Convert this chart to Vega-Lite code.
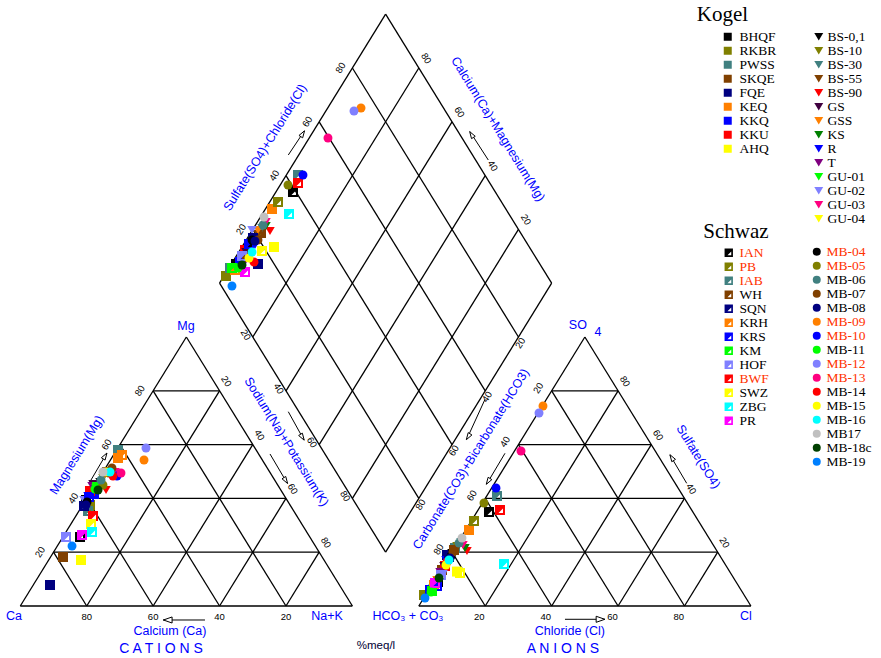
{
"$schema": "https://vega.github.io/schema/vega-lite/v6.json",
"width": 881, "height": 658, "autosize": {"type": "none"}, "padding": 0,
"background": "white",
"config": {"view": {"stroke": null},
  "legend": {"orient": "none", "padding": 0, "labelFont": "Liberation Serif", "labelFontSize": 13.5, "labelColor": "#000000", "rowPadding": -1.4, "symbolStrokeWidth": 0, "labelOffset": 5}},
"datasets": {
 "grid": [
  {"x":0,"y":0,"x2":100,"y2":0},{"x":0,"y":0,"x2":50,"y2":100},{"x":100,"y":0,"x2":50,"y2":100},
  {"x":10,"y":20,"x2":90,"y2":20},{"x":20,"y":40,"x2":80,"y2":40},{"x":30,"y":60,"x2":70,"y2":60},{"x":40,"y":80,"x2":60,"y2":80},
  {"x":20,"y":0,"x2":60,"y2":80},{"x":40,"y":0,"x2":70,"y2":60},{"x":60,"y":0,"x2":80,"y2":40},{"x":80,"y":0,"x2":90,"y2":20},
  {"x":80,"y":0,"x2":40,"y2":80},{"x":60,"y":0,"x2":30,"y2":60},{"x":40,"y":0,"x2":20,"y2":40},{"x":20,"y":0,"x2":10,"y2":20},
  {"x":120,"y":0,"x2":220,"y2":0},{"x":120,"y":0,"x2":170,"y2":100},{"x":220,"y":0,"x2":170,"y2":100},
  {"x":130,"y":20,"x2":210,"y2":20},{"x":140,"y":40,"x2":200,"y2":40},{"x":150,"y":60,"x2":190,"y2":60},{"x":160,"y":80,"x2":180,"y2":80},
  {"x":140,"y":0,"x2":180,"y2":80},{"x":160,"y":0,"x2":190,"y2":60},{"x":180,"y":0,"x2":200,"y2":40},{"x":200,"y":0,"x2":210,"y2":20},
  {"x":200,"y":0,"x2":160,"y2":80},{"x":180,"y":0,"x2":150,"y2":60},{"x":160,"y":0,"x2":140,"y2":40},{"x":140,"y":0,"x2":130,"y2":20},
  {"x":110,"y":20,"x2":60,"y2":120},{"x":60,"y":120,"x2":110,"y2":220},{"x":110,"y":220,"x2":160,"y2":120},{"x":160,"y":120,"x2":110,"y2":20},
  {"x":100,"y":40,"x2":150,"y2":140},{"x":90,"y":60,"x2":140,"y2":160},{"x":80,"y":80,"x2":130,"y2":180},{"x":70,"y":100,"x2":120,"y2":200},
  {"x":120,"y":40,"x2":70,"y2":140},{"x":130,"y":60,"x2":80,"y2":160},{"x":140,"y":80,"x2":90,"y2":180},{"x":150,"y":100,"x2":100,"y2":200}
 ],
 "shafts": [
  {"x":42.97,"y":-5.2,"x2":55.61,"y2":-5.2},
  {"x":20.99,"y":46.21,"x2":26.02,"y2":56.77},
  {"x":80.70,"y":72.23,"x2":85.42,"y2":61.71},
  {"x":75.19,"y":56.51,"x2":80.40,"y2":45.61},
  {"x":164.01,"y":-4.94,"x2":176.06,"y2":-4.94},
  {"x":139.93,"y":76.84,"x2":134.42,"y2":61.97},
  {"x":145.95,"y":56.77,"x2":140.44,"y2":45.35},
  {"x":195.63,"y":56.13,"x2":200.66,"y2":45.61},
  {"x":80.70,"y":167.66,"x2":85.52,"y2":176.58},
  {"x":135.41,"y":176.32,"x2":140.92,"y2":165.80}
 ],
 "heads": [
  {"x":44.4,"y":-5.2,"dir":"l"},
  {"x":25.4,"y":55.5,"dir":"ur"},
  {"x":84.8,"y":63.0,"dir":"dr"},
  {"x":79.8,"y":46.9,"dir":"dr"},
  {"x":174.7,"y":-4.94,"dir":"r"},
  {"x":135.0,"y":63.2,"dir":"dl"},
  {"x":141.0,"y":46.6,"dir":"dl"},
  {"x":196.3,"y":54.9,"dir":"ul"},
  {"x":84.9,"y":175.3,"dir":"ur"},
  {"x":136.0,"y":175.0,"dir":"ul"}
 ],
 "ticks0": [
  {"t":"80","x":20,"y":-4.1},{"t":"60","x":40,"y":-4.1},{"t":"40","x":60,"y":-4.1},{"t":"20","x":80,"y":-4.1},
  {"t":"20","x":138.2,"y":-4.1},{"t":"40","x":158.2,"y":-4.1},{"t":"60","x":178.3,"y":-4.1},{"t":"80","x":198.3,"y":-4.1}
 ],
 "ticksL": [
  {"t":"20","x":6,"y":20},{"t":"40","x":16,"y":40},{"t":"60","x":26,"y":60},{"t":"80","x":36,"y":80},
  {"t":"20","x":156,"y":81},{"t":"40","x":146,"y":61},{"t":"60","x":136,"y":41},{"t":"80","x":126,"y":21},
  {"t":"20","x":66.5,"y":140},{"t":"40","x":76.5,"y":160},{"t":"60","x":86.5,"y":180},{"t":"80","x":96.5,"y":200},
  {"t":"20","x":150.6,"y":97.7},{"t":"40","x":140.6,"y":77.7},{"t":"60","x":130.6,"y":57.7},{"t":"80","x":120.6,"y":37.7}
 ],
 "ticksR": [
  {"t":"20","x":62,"y":83.5},{"t":"40","x":72,"y":63.5},{"t":"60","x":82,"y":43.5},{"t":"80","x":92,"y":23.5},
  {"t":"80","x":182,"y":83.5},{"t":"60","x":192,"y":63.5},{"t":"40","x":202,"y":43.5},{"t":"20","x":212,"y":23.5},
  {"t":"80","x":122.2,"y":203.6},{"t":"60","x":132.2,"y":183.6},{"t":"40","x":142.2,"y":163.6},{"t":"20","x":152.2,"y":143.6},
  {"t":"20","x":67.8,"y":100.8},{"t":"40","x":77.8,"y":80.8},{"t":"60","x":87.8,"y":60.8},{"t":"80","x":97.8,"y":40.8}
 ],
 "titles0": [
  {"t":"Mg","x":49.9,"y":104.1},{"t":"Ca","x":-1.9,"y":-3.9},{"t":"Na+K","x":92.35,"y":-3.9},
  {"t":"Calcium (Ca)","x":45.08,"y":-9.3},{"t":"HCO₃ + CO₃","x":116.74,"y":-3.9},{"t":"Cl","x":218.5,"y":-3.9},
  {"t":"Chloride (Cl)","x":165.5,"y":-9.3},{"t":"SO","x":167.9,"y":104.5},{"t":"4","x":173.95,"y":101.9}
 ],
 "titlesL": [
  {"t":"Magnesium(Mg)","x":16.98,"y":56.1},
  {"t":"Sulfate(SO4)+Chloride(Cl)","x":73.68,"y":170.45},
  {"t":"Carbonate(CO3)+Bicarbonate(HCO3)","x":135.71,"y":54.65}
 ],
 "titlesR": [
  {"t":"Sodium(Na)+Potassium(K)","x":80.16,"y":61.08},
  {"t":"Calcium(Ca)+Magnesium(Mg)","x":143.84,"y":177.32},
  {"t":"Sulfate(SO4)","x":204.15,"y":55.5}
 ],
 "big": [{"t":"C A T I O N S","x":42.37,"y":-16.0},{"t":"A N I O N S","x":163.4,"y":-16.0}],
 "meq": [{"t":"%meq/l","x":107.1,"y":-14.9}],
 "groups": [{"t":"Kogel","x":211.44,"y":219.7},{"t":"Schwaz","x":215.5,"y":139.0}],
 "pts": [
  {"s":"BHQF","g":"KS","x":19.78,"y":39.41},{"s":"BHQF","g":"KS","x":125.77,"y":8.92},{"s":"BHQF","g":"KS","x":64.95,"y":127.14},
  {"s":"RKBR","g":"KS","x":20.69,"y":36.43},{"s":"RKBR","g":"KS","x":121.56,"y":4.09},{"s":"RKBR","g":"KS","x":61.94,"y":122.68},
  {"s":"PWSS","g":"KS","x":29.42,"y":57.99},{"s":"PWSS","g":"KS","x":130.89,"y":21.56},{"s":"PWSS","g":"KS","x":63.14,"y":125.65},
  {"s":"SKQE","g":"KS","x":12.86,"y":18.22},{"s":"SKQE","g":"KS","x":126.98,"y":13.38},{"s":"SKQE","g":"KS","x":72.48,"y":138.66},
  {"s":"FQE","g":"KS","x":8.94,"y":7.81},{"s":"FQE","g":"KS","x":128.48,"y":18.96},{"s":"FQE","g":"KS","x":71.57,"y":127.14},
  {"s":"KEQ","g":"KS","x":29.42,"y":55.02},{"s":"KEQ","g":"KS","x":135.11,"y":28.25},{"s":"KEQ","g":"KS","x":75.79,"y":147.58},
  {"s":"KKQ","g":"KS","x":22.19,"y":41.64},{"s":"KKQ","g":"KS","x":123.37,"y":5.95},{"s":"KKQ","g":"KS","x":66.15,"y":127.88},
  {"s":"KKU","g":"KS","x":20.99,"y":42.75},{"s":"KKU","g":"KS","x":127.88,"y":14.87},{"s":"KKU","g":"KS","x":67.66,"y":132.34},
  {"s":"AHQ","g":"KS","x":18.28,"y":17.10},{"s":"AHQ","g":"KS","x":131.5,"y":12.8},{"s":"AHQ","g":"KS","x":76.39,"y":133.46},
  {"s":"BS-0,1","g":"KT","x":24.0,"y":46.10},{"s":"BS-0,1","g":"KT","x":129.99,"y":19.70},{"s":"BS-0,1","g":"KT","x":69.17,"y":133.83},
  {"s":"BS-10","g":"KT","x":24.90,"y":47.58},{"s":"BS-10","g":"KT","x":131.49,"y":22.31},{"s":"BS-10","g":"KT","x":70.97,"y":136.80},
  {"s":"BS-30","g":"KT","x":23.40,"y":45.35},{"s":"BS-30","g":"KT","x":132.70,"y":23.79},{"s":"BS-30","g":"KT","x":72.78,"y":140.52},
  {"s":"BS-55","g":"KT","x":26.41,"y":49.07},{"s":"BS-55","g":"KT","x":131.19,"y":20.82},{"s":"BS-55","g":"KT","x":71.57,"y":138.29},
  {"s":"BS-90","g":"KT","x":25.81,"y":43.12},{"s":"BS-90","g":"KT","x":134.51,"y":20.45},{"s":"BS-90","g":"KT","x":75.19,"y":139.41},
  {"s":"GS","g":"KT","x":21.89,"y":45.35},{"s":"GS","g":"KT","x":127.58,"y":14.87},{"s":"GS","g":"KT","x":67.96,"y":131.60},
  {"s":"GSS","g":"KT","x":25.20,"y":48.33},{"s":"GSS","g":"KT","x":125.47,"y":9.67},{"s":"GSS","g":"KT","x":71.57,"y":139.78},
  {"s":"KS","g":"KT","x":24.0,"y":44.61},{"s":"KS","g":"KT","x":133.90,"y":21.56},{"s":"KS","g":"KT","x":73.98,"y":141.27},
  {"s":"R","g":"KT","x":20.39,"y":40.89},{"s":"R","g":"KT","x":128.18,"y":17.10},{"s":"R","g":"KT","x":70.67,"y":134.20},
  {"s":"T","g":"KT","x":21.59,"y":44.61},{"s":"T","g":"KT","x":126.38,"y":12.64},{"s":"T","g":"KT","x":67.36,"y":127.51},
  {"s":"GU-01","g":"KT","x":22.79,"y":43.87},{"s":"GU-01","g":"KT","x":124.27,"y":6.69},{"s":"GU-01","g":"KT","x":64.95,"y":124.91},
  {"s":"GU-02","g":"KT","x":19.18,"y":39.41},{"s":"GU-02","g":"KT","x":127.28,"y":11.90},{"s":"GU-02","g":"KT","x":69.77,"y":139.78},
  {"s":"GU-03","g":"KT","x":28.52,"y":49.81},{"s":"GU-03","g":"KT","x":133.30,"y":22.68},{"s":"GU-03","g":"KT","x":73.98,"y":142.75},
  {"s":"GU-04","g":"KT","x":25.20,"y":49.07},{"s":"GU-04","g":"KT","x":128.78,"y":15.61},{"s":"GU-04","g":"KT","x":69.17,"y":130.11},
  {"s":"IAN","g":"SH","x":17.98,"y":25.65},{"s":"IAN","g":"SH","x":141.13,"y":34.94},{"s":"IAN","g":"SH","x":82.11,"y":153.90},
  {"s":"PB","g":"SH","x":20.99,"y":37.55},{"s":"PB","g":"SH","x":136.61,"y":31.60},{"s":"PB","g":"SH","x":77.60,"y":150.19},
  {"s":"IAB","g":"SH","x":20.39,"y":35.32},{"s":"IAB","g":"SH","x":143.54,"y":40.89},{"s":"IAB","g":"SH","x":83.62,"y":160.22},
  {"s":"WH","g":"SH","x":26.11,"y":49.81},{"s":"WH","g":"SH","x":130.59,"y":20.82},{"s":"WH","g":"SH","x":68.26,"y":129.74},
  {"s":"SQN","g":"SH","x":19.18,"y":37.18},{"s":"SQN","g":"SH","x":129.09,"y":18.22},{"s":"SQN","g":"SH","x":70.07,"y":136.80},
  {"s":"KRH","g":"SH","x":30.62,"y":56.13},{"s":"KRH","g":"SH","x":124.57,"y":7.81},{"s":"KRH","g":"SH","x":64.65,"y":124.91},
  {"s":"KRS","g":"SH","x":20.69,"y":40.52},{"s":"KRS","g":"SH","x":125.47,"y":7.44},{"s":"KRS","g":"SH","x":68.86,"y":134.57},
  {"s":"KM","g":"SH","x":23.10,"y":44.24},{"s":"KM","g":"SH","x":123.97,"y":5.58},{"s":"KM","g":"SH","x":63.74,"y":125.65},
  {"s":"HOF","g":"SH","x":13.76,"y":25.65},{"s":"HOF","g":"SH","x":126.68,"y":11.52},{"s":"HOF","g":"SH","x":66.76,"y":130.11},
  {"s":"BWF","g":"SH","x":21.89,"y":33.46},{"s":"BWF","g":"SH","x":144.44,"y":35.69},{"s":"BWF","g":"SH","x":83.62,"y":157.25},
  {"s":"SWZ","g":"SH","x":21.29,"y":30.48},{"s":"SWZ","g":"SH","x":132.40,"y":12.27},{"s":"SWZ","g":"SH","x":72.78,"y":131.97},
  {"s":"ZBG","g":"SH","x":21.59,"y":27.51},{"s":"ZBG","g":"SH","x":145.65,"y":15.61},{"s":"ZBG","g":"SH","x":80.91,"y":145.73},
  {"s":"PR","g":"SH","x":18.58,"y":26.39},{"s":"PR","g":"SH","x":124.87,"y":8.55},{"s":"PR","g":"SH","x":67.66,"y":124.16},
  {"s":"MB-04","g":"SC","x":20.09,"y":38.66},{"s":"MB-04","g":"SC","x":129.69,"y":18.59},{"s":"MB-04","g":"SC","x":69.77,"y":136.06},
  {"s":"MB-05","g":"SC","x":24.90,"y":44.98},{"s":"MB-05","g":"SC","x":139.62,"y":38.29},{"s":"MB-05","g":"SC","x":80.61,"y":156.51},
  {"s":"MB-06","g":"SC","x":24.30,"y":46.84},{"s":"MB-06","g":"SC","x":132.10,"y":23.42},{"s":"MB-06","g":"SC","x":73.08,"y":141.64},
  {"s":"MB-07","g":"SC","x":27.61,"y":51.30},{"s":"MB-07","g":"SC","x":130.29,"y":20.07},{"s":"MB-07","g":"SC","x":71.57,"y":136.06},
  {"s":"MB-08","g":"SC","x":19.78,"y":37.55},{"s":"MB-08","g":"SC","x":129.39,"y":17.84},{"s":"MB-08","g":"SC","x":70.67,"y":135.69},
  {"s":"MB-09","g":"SC","x":37.25,"y":54.28},{"s":"MB-09","g":"SC","x":157.39,"y":74.35},{"s":"MB-09","g":"SC","x":102.59,"y":185.13},
  {"s":"MB-10","g":"SC","x":29.12,"y":48.33},{"s":"MB-10","g":"SC","x":143.24,"y":43.87},{"s":"MB-10","g":"SC","x":85.12,"y":160.22},
  {"s":"MB-11","g":"SC","x":22.49,"y":43.49},{"s":"MB-11","g":"SC","x":123.67,"y":5.20},{"s":"MB-11","g":"SC","x":65.55,"y":125.65},
  {"s":"MB-12","g":"SC","x":37.85,"y":58.74},{"s":"MB-12","g":"SC","x":156.19,"y":71.75},{"s":"MB-12","g":"SC","x":100.48,"y":184.02},
  {"s":"MB-13","g":"SC","x":30.32,"y":49.44},{"s":"MB-13","g":"SC","x":150.77,"y":57.62},{"s":"MB-13","g":"SC","x":92.65,"y":173.98},
  {"s":"MB-14","g":"SC","x":27.91,"y":48.33},{"s":"MB-14","g":"SC","x":128.48,"y":16.36},{"s":"MB-14","g":"SC","x":70.37,"y":127.88},
  {"s":"MB-15","g":"SC","x":25.81,"y":49.81},{"s":"MB-15","g":"SC","x":128.18,"y":15.24},{"s":"MB-15","g":"SC","x":68.86,"y":129.37},
  {"s":"MB-16","g":"SC","x":27.01,"y":49.81},{"s":"MB-16","g":"SC","x":129.09,"y":17.10},{"s":"MB-16","g":"SC","x":69.77,"y":131.60},
  {"s":"MB17","g":"SC","x":24.90,"y":49.81},{"s":"MB17","g":"SC","x":133.0,"y":25.28},{"s":"MB17","g":"SC","x":73.38,"y":144.61},
  {"s":"MB-18c","g":"SC","x":23.40,"y":43.12},{"s":"MB-18c","g":"SC","x":126.08,"y":10.41},{"s":"MB-18c","g":"SC","x":66.76,"y":126.77},
  {"s":"MB-19","g":"SC","x":15.57,"y":22.31},{"s":"MB-19","g":"SC","x":121.86,"y":2.97},{"s":"MB-19","g":"SC","x":63.74,"y":118.96}
 ]
},
"encoding": {
 "x": {"field": "x", "type": "quantitative", "scale": {"domain": [-6.113, 259.17], "nice": false, "zero": false}, "axis": null},
 "y": {"field": "y", "type": "quantitative", "scale": {"domain": [-19.33, 225.28], "nice": false, "zero": false}, "axis": null}
},
"layer": [
 {"data": {"name": "grid"}, "mark": {"type": "rule", "color": "#000000", "strokeWidth": 1.3},
  "encoding": {"x2": {"field": "x2"}, "y2": {"field": "y2"}}},
 {"data": {"name": "shafts"}, "mark": {"type": "rule", "color": "#000000", "strokeWidth": 1},
  "encoding": {"x2": {"field": "x2"}, "y2": {"field": "y2"}}},
 {"data": {"name": "heads"}, "mark": {"type": "point", "filled": true, "fill": "white", "stroke": "#000000", "strokeWidth": 1, "size": 75, "opacity": 1},
  "encoding": {"shape": {"field": "dir", "type": "nominal", "legend": null,
    "scale": {"domain": ["l","r","ur","ul","dr","dl"],
      "range": ["M-1,0L1,-0.7L1,0.7Z","M1,0L-1,-0.7L-1,0.7Z","M0.53,-0.85L0.1,0.78L-0.76,0.24Z","M-0.53,-0.85L-0.1,0.78L0.76,0.24Z","M0.53,0.85L0.1,-0.78L-0.76,-0.24Z","M-0.53,0.85L-0.1,-0.78L0.76,-0.24Z"]}}}},
 {"data": {"name": "ticks0"}, "mark": {"type": "text", "font": "Liberation Sans", "fontSize": 9.5, "color": "#000000", "baseline": "middle"},
  "encoding": {"text": {"field": "t"}}},
 {"data": {"name": "ticksL"}, "mark": {"type": "text", "font": "Liberation Sans", "fontSize": 9.5, "color": "#000000", "baseline": "middle", "angle": 301.7},
  "encoding": {"text": {"field": "t"}}},
 {"data": {"name": "ticksR"}, "mark": {"type": "text", "font": "Liberation Sans", "fontSize": 9.5, "color": "#000000", "baseline": "middle", "angle": 58.3},
  "encoding": {"text": {"field": "t"}}},
 {"data": {"name": "titles0"}, "mark": {"type": "text", "font": "Liberation Sans", "fontSize": 12.5, "color": "#0000ff", "baseline": "middle"},
  "encoding": {"text": {"field": "t"}}},
 {"data": {"name": "titlesL"}, "mark": {"type": "text", "font": "Liberation Sans", "fontSize": 12.5, "color": "#0000ff", "baseline": "middle", "angle": 301.7},
  "encoding": {"text": {"field": "t"}}},
 {"data": {"name": "titlesR"}, "mark": {"type": "text", "font": "Liberation Sans", "fontSize": 12.5, "color": "#0000ff", "baseline": "middle", "angle": 58.3},
  "encoding": {"text": {"field": "t"}}},
 {"data": {"name": "big"}, "mark": {"type": "text", "font": "Liberation Sans", "fontSize": 14, "color": "#0000ff", "baseline": "middle"},
  "encoding": {"text": {"field": "t"}}},
 {"data": {"name": "meq"}, "mark": {"type": "text", "font": "Liberation Sans", "fontSize": 11.5, "color": "#000033", "baseline": "middle"},
  "encoding": {"text": {"field": "t"}}},
 {"data": {"name": "groups"}, "mark": {"type": "text", "font": "Liberation Serif", "fontSize": 21, "color": "#000000", "baseline": "middle"},
  "encoding": {"text": {"field": "t"}}},
 {"data": {"name": "pts"}, "transform": [{"filter": {"field": "g", "equal": "KS"}}],
  "mark": {"type": "point", "shape": "square", "filled": true, "size": 100, "opacity": 1},
  "encoding": {"color": {"field": "s", "type": "nominal",
    "scale": {"domain": ["BHQF","RKBR","PWSS","SKQE","FQE","KEQ","KKQ","KKU","AHQ"],
      "range": ["#000000","#808000","#408080","#804000","#000080","#ff8000","#0000ff","#ff0000","#ffff00"]},
    "legend": {"title": null, "legendX": 721, "legendY": 30, "symbolType": "square", "symbolSize": 64, "labelOffset": 5}}}},
 {"data": {"name": "pts"}, "transform": [{"filter": {"field": "g", "equal": "KT"}}],
  "mark": {"type": "point", "shape": "triangle-down", "filled": true, "size": 90, "opacity": 1},
  "encoding": {"color": {"field": "s", "type": "nominal",
    "scale": {"domain": ["BS-0,1","BS-10","BS-30","BS-55","BS-90","GS","GSS","KS","R","T","GU-01","GU-02","GU-03","GU-04"],
      "range": ["#000000","#808000","#408080","#804000","#ff0000","#400040","#ff8000","#008000","#0000ff","#800080","#00ff00","#8080ff","#ff0080","#ffff00"]},
    "legend": {"title": null, "legendX": 812, "legendY": 30, "symbolType": "triangle-down", "symbolSize": 80, "labelOffset": 2}}}},
 {"data": {"name": "pts"}, "transform": [{"filter": {"field": "g", "equal": "SH"}}],
  "mark": {"type": "point", "shape": "M-1,-1H1V1H-1Z M0.6,-0.3L-0.3,0.6L0.6,0.6Z", "filled": true, "size": 100, "opacity": 1},
  "encoding": {"color": {"field": "s", "type": "nominal",
    "scale": {"domain": ["IAN","PB","IAB","WH","SQN","KRH","KRS","KM","HOF","BWF","SWZ","ZBG","PR"],
      "range": ["#000000","#808000","#408080","#804000","#000080","#ff8000","#0000ff","#00ff00","#8080ff","#ff0000","#ffff00","#00ffff","#ff00ff"]},
    "legend": {"title": null, "legendX": 722, "legendY": 246, "symbolType": "M-1,-1H1V1H-1Z M0.6,-0.3L-0.3,0.6L0.6,0.6Z", "symbolSize": 70, "labelOffset": 4,
      "labelColor": {"expr": "indexof(['IAN','PB','IAB','BWF'], datum.value) >= 0 ? '#ff3300' : '#000000'"}}}}},
 {"data": {"name": "pts"}, "transform": [{"filter": {"field": "g", "equal": "SC"}}],
  "mark": {"type": "point", "shape": "circle", "filled": true, "size": 80, "opacity": 1},
  "encoding": {"color": {"field": "s", "type": "nominal",
    "scale": {"domain": ["MB-04","MB-05","MB-06","MB-07","MB-08","MB-09","MB-10","MB-11","MB-12","MB-13","MB-14","MB-15","MB-16","MB17","MB-18c","MB-19"],
      "range": ["#000000","#808000","#408080","#804000","#000080","#ff8000","#0000ff","#00ff00","#8080ff","#ff0080","#ff0000","#ffff00","#00ffff","#c0c0c0","#004000","#0080ff"]},
    "legend": {"title": null, "legendX": 810, "legendY": 245, "symbolType": "circle", "symbolSize": 64, "labelOffset": 3,
      "labelColor": {"expr": "indexof(['MB-04','MB-05','MB-09','MB-10','MB-12','MB-13'], datum.value) >= 0 ? '#ff3300' : '#000000'"}}}}}
],
"resolve": {"scale": {"color": "independent"}, "legend": {"color": "independent"}}
}
